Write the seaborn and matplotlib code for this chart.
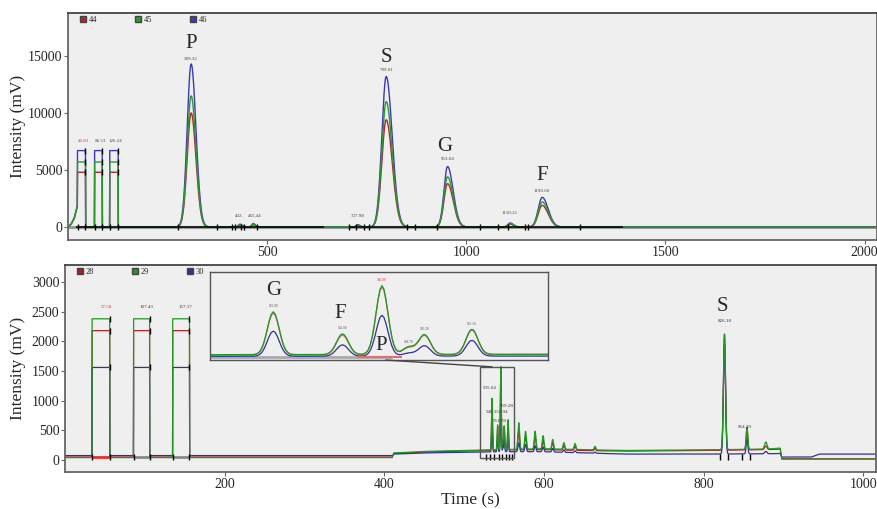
import numpy as np
import pandas as pd
import matplotlib
matplotlib.use('Agg')
import matplotlib.pyplot as plt
from matplotlib.patches import Rectangle, ConnectionPatch
from matplotlib.lines import Line2D
import seaborn as sns

sns.set_style('ticks')
plt.rcParams['font.family'] = ['Liberation Serif', 'DejaVu Serif']

# ---------- upper run : 44 / 45 / 46 ----------
top_runs = ['44', '45', '46']
top_colors = ['#b02828', '#2a9a2a', '#3a3ab4']
top_pulse_start = [24, 67, 105]
top_pulse_end = [44, 86, 126]
top_pulse_h = [4800, 5700, 6700]          # per run
top_base_t = [0, 8, 16, 24, 24.5, 2031]
top_base_y = [0, 250, 800, 1900, 0, 0]
top_peak_t = [309.3, 432.0, 465.4, 728.0, 799.0, 953.0, 1110.2, 1190.6]
top_peak_sl = [10, 4, 4, 4, 11, 9, 6, 10]
top_peak_sr = [12, 5, 5, 5, 15, 14, 8, 15]
top_peak_h = {
    '44': [10000, 150, 200, 150, 9400, 3800, 250, 1900],
    '45': [11500, 200, 250, 180, 11000, 4400, 300, 2200],
    '46': [14300, 250, 300, 200, 13200, 5300, 350, 2600],
}
top_names = ['P', 'S', 'G', 'F']
top_name_t = [309, 799, 946, 1190]
top_name_y = [16100, 14900, 7100, 4500]
top_lab_text = ['46.81', '86.53', '126.24', '309.32', '432.', '465.44', '727.98',
                '799.01', '953.04', '1110.21', '1190.60']
top_lab_t = [39, 81, 120, 309, 430, 468, 728, 799, 953, 1110, 1190]
top_lab_y = [7500, 7500, 7500, 14700, 950, 950, 950, 13750, 5950, 1200, 3150]
top_marks_t = [24, 44, 67, 86, 105, 126, 277, 374, 412, 420, 434, 443, 475,
               706, 722, 744, 756, 851, 872, 926, 1034, 1079, 1105, 1147, 1155, 1286]
top_int_lines = [(21, 644), (706, 1394)]

# ---------- lower run : 28 / 29 / 30 ----------
bot_runs = ['28', '29', '30']
bot_colors = ['#a82020', '#1f9a1f', '#30309a']
bot_pulse_start = [34, 86, 135]
bot_pulse_end = [56, 106, 156]
bot_pulse_h = [2180, 2380, 1560]
bot_base_t = [0, 410, 412, 450, 500, 550, 600, 650, 700, 800, 880, 896, 898, 935, 945, 1016]
bot_base = {
    '28': [50, 50, 110, 135, 150, 170, 175, 160, 150, 160, 175, 185, 20, 20, 20, 20],
    '29': [40, 40, 120, 145, 160, 175, 190, 175, 160, 170, 185, 200, 15, 15, 15, 15],
    '30': [75, 75, 100, 120, 130, 140, 140, 120, 100, 100, 105, 110, 50, 50, 100, 100],
}
bot_peak_t = [535.0, 542.0, 546.0, 548.7, 550.3, 555.1, 568.5, 577, 589, 599, 611,
              625, 639, 664, 826.2, 854.4, 878]
bot_peak_s = [0.6, 0.6, 0.6, 0.6, 0.6, 0.6, 1.0, 1.0, 1.0, 1.0, 1.0, 1.0, 1.0, 1.0, 1.3, 1.0, 1.5]
bot_peak_h = {
    '28': [850, 400, 1380, 140, 390, 500, 320, 220, 220, 160, 120, 80, 70, 40, 1950, 380, 60],
    '29': [870, 420, 1400, 150, 400, 510, 450, 300, 300, 220, 160, 110, 100, 60, 1950, 350, 120],
    '30': [510, 230, 830, 60, 210, 320, 150, 120, 100, 80, 60, 40, 30, 20, 1850, 250, 40],
}
bot_names = ['S']
bot_name_t = [823]
bot_name_y = [2580]
bot_lab_text = ['57.58', '107.43', '157.17', '535.04', '559.28', '540.553.94', '551.78', '826.18', '854.39']
bot_lab_t = [52, 102, 151, 532, 553, 541, 544, 826, 852]
bot_lab_y = [2580, 2580, 2580, 1210, 910, 810, 660, 2340, 560]
bot_marks_t = [34, 56, 86, 106, 135, 156, 528, 533, 538, 544, 548, 552, 556, 560,
               820, 831, 848, 858]
inset_names = ['G', 'F', 'P']
inset_name_t = [535.0, 541.8, 545.9]
inset_name_y = [1480, 1015, 365]


def trace(t, base_t, base_y, p_start, p_end, p_h, pk_t, pk_h, sl, sr):
    y = np.interp(t, base_t, base_y)
    for s, e in zip(p_start, p_end):
        y = np.where((t >= s) & (t <= e), p_h, y)
    for tp, h, a, b in zip(pk_t, pk_h, sl, sr):
        sig = np.where(t < tp, a, b)
        y = y + h * np.exp(-0.5 * ((t - tp) / sig) ** 2)
    return y


t_top = np.arange(0, 2031, 0.5)
rows = []
for i, r in enumerate(top_runs):
    y = trace(t_top, top_base_t, top_base_y, top_pulse_start, top_pulse_end,
              top_pulse_h[i], top_peak_t, top_peak_h[r], top_peak_sl, top_peak_sr)
    rows.append(pd.DataFrame({'Time (s)': t_top, 'Intensity (mV)': y, 'run': r}))
df_top = pd.concat(rows, ignore_index=True)

t_bot = np.arange(0, 1016, 0.2)
rows = []
for i, r in enumerate(bot_runs):
    y = trace(t_bot, bot_base_t, bot_base[r], bot_pulse_start, bot_pulse_end,
              bot_pulse_h[i], bot_peak_t, bot_peak_h[r], bot_peak_s, bot_peak_s)
    rows.append(pd.DataFrame({'Time (s)': t_bot, 'Intensity (mV)': y, 'run': r}))
df_bot = pd.concat(rows, ignore_index=True)

fig = plt.figure(figsize=(8.78, 5.09), dpi=100)
ax1 = fig.add_axes([0.0774, 0.5285, 0.9214, 0.446])
ax2 = fig.add_axes([0.074, 0.0727, 0.9237, 0.4067])
axin = fig.add_axes([0.2392, 0.2927, 0.385, 0.1729])

bg = '#efefef'
for ax in (ax1, ax2, axin):
    ax.set_facecolor(bg)

# upper panel
pal_top = dict(zip(top_runs, top_colors))
ax1.hlines(0, 0, 2031, color='#999999', lw=2.2, zorder=1)
sns.lineplot(data=df_top, x='Time (s)', y='Intensity (mV)', hue='run',
             hue_order=['44', '46', '45'], palette=pal_top, estimator=None,
             lw=1.0, legend=False, ax=ax1)
for a, b in top_int_lines:
    ax1.hlines(0, a, b, color='black', lw=1.1, zorder=3)
ax1.scatter(top_marks_t, np.zeros(len(top_marks_t)), marker='|', s=18, c='black', lw=1, zorder=4)
for h in top_pulse_h:
    ax1.scatter(top_pulse_end, [h] * 3, marker='|', s=14, c='black', lw=1, zorder=4)
for n, x, y in zip(top_names, top_name_t, top_name_y):
    ax1.text(x, y, n, fontsize=15, ha='center', va='center')
for s, x, y in zip(top_lab_text, top_lab_t, top_lab_y):
    ax1.text(x, y, s, fontsize=3.6, ha='center', va='center',
             color='#e03030' if s == '46.81' else '#444444')
ax1.set_xlim(0, 2031)
ax1.set_ylim(-1140, 18770)
ax1.set_xticks([500, 1000, 1500, 2000])
ax1.set_yticks([0, 5000, 10000, 15000])
ax1.set_xlabel('')
ax1.set_ylabel('Intensity (mV)', fontsize=12.5)

# lower panel
pal_bot = dict(zip(bot_runs, bot_colors))
sns.lineplot(data=df_bot, x='Time (s)', y='Intensity (mV)', hue='run',
             hue_order=['28', '30', '29'], palette=pal_bot, estimator=None,
             lw=0.9, legend=False, ax=ax2)
for k, (a, b) in enumerate(zip(bot_pulse_start, bot_pulse_end)):
    ax2.hlines(50, a, b, color='#e03030' if k == 0 else '#888888', lw=2.0, zorder=1)
ax2.scatter(bot_marks_t, [50] * len(bot_marks_t), marker='|', s=18, c='black', lw=1, zorder=4)
for h in bot_pulse_h:
    ax2.scatter(bot_pulse_end, [h] * 3, marker='|', s=14, c='black', lw=1, zorder=4)
for n, x, y in zip(bot_names, bot_name_t, bot_name_y):
    ax2.text(x, y, n, fontsize=15, ha='center', va='center')
for s, x, y in zip(bot_lab_text, bot_lab_t, bot_lab_y):
    ax2.text(x, y, s, fontsize=3.6, ha='center', va='center',
             color='#e03030' if s == '57.58' else '#333333')
ax2.add_patch(Rectangle((520, 30), 42, 1540, fill=False, ec='#555555', lw=1, zorder=5))
ax2.set_xlim(0, 1016)
ax2.set_ylim(-202, 3287)
ax2.set_xticks([200, 400, 600, 800, 1000])
ax2.set_yticks(range(0, 3001, 500))
ax2.set_xlabel('Time (s)', fontsize=12.5, labelpad=1)
ax2.set_ylabel('Intensity (mV)', fontsize=12.5)

# inset (zoom of the boxed cluster)
sns.lineplot(data=df_bot[(df_bot['Time (s)'] > 527) & (df_bot['Time (s)'] < 564)],
             x='Time (s)', y='Intensity (mV)', hue='run', hue_order=['30', '28', '29'],
             palette=pal_bot, estimator=None, lw=0.9, legend=False, ax=axin)
for line in axin.get_lines()[1:2]:
    line.set_alpha(0.6)
axin.hlines(120, 528.6, 547, color='#aaaaaa', lw=2, zorder=1)
axin.hlines(120, 543.5, 548, color='#e07070', lw=1.5, zorder=2)
for n, x, y in zip(inset_names, inset_name_t, inset_name_y):
    axin.text(x, y, n, fontsize=15, ha='center', va='center')
for tp, h in zip(bot_peak_t[:6], bot_peak_h['29'][:6]):
    axin.text(tp, 175 + h + 110, f'{tp:.2f}', fontsize=2.5, ha='center', va='center',
              color='#e03030' if h > 1000 else '#555555')
axin.set_xlim(528.6, 562.8)
axin.set_ylim(60, 1850)
axin.set_xticks([])
axin.set_yticks([])
axin.set_xlabel('')
axin.set_ylabel('')
for sp in axin.spines.values():
    sp.set_color('#555555')
    sp.set_linewidth(1)

con = ConnectionPatch(xyA=(0.52, 0), coordsA=axin.transAxes, xyB=(535, 1570),
                      coordsB=ax2.transData, color='#444444', lw=1)
fig.add_artist(con)

# frames, ticks, legends
for ax, runs, cols in ((ax1, top_runs, top_colors), (ax2, bot_runs, bot_colors)):
    for sp in ax.spines.values():
        sp.set_visible(True)
        sp.set_color('#666666')
        sp.set_linewidth(1.3)
    ax.spines['top'].set_color('#444444')
    ax.tick_params(axis='both', labelsize=10, length=3, width=0.8, pad=1, color='#666666')
    handles = [Line2D([0], [0], marker='s', ls='none', markerfacecolor=c,
                      markeredgecolor='#444444', markersize=5, label=r)
               for r, c in zip(runs, cols)]
    ax.legend(handles=handles, loc='upper left', bbox_to_anchor=(0.005, 1.02), ncol=3,
              frameon=False, fontsize=6, columnspacing=4.5, handletextpad=0.3,
              handlelength=0.8)

ax1.yaxis.set_label_coords(-0.052, 0.5)
ax2.yaxis.set_label_coords(-0.048, 0.5)

fig.savefig('out.png', dpi=100)
